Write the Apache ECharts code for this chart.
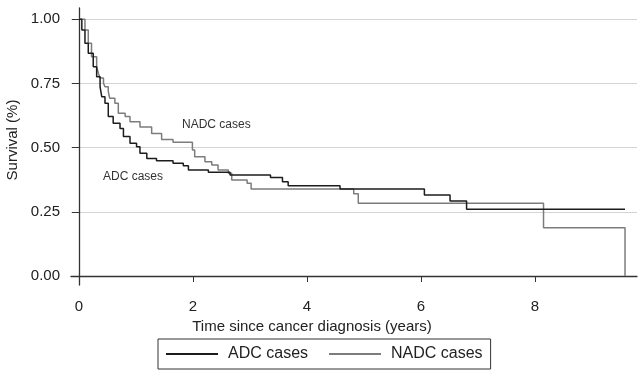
<!DOCTYPE html>
<html>
<head>
<meta charset="utf-8">
<script src="https://cdn.jsdelivr.net/npm/echarts@6/dist/echarts.min.js"></script>
<style>
html, body { margin: 0; padding: 0; background: #fff; }
#main { width: 643px; height: 376px; }
</style>
</head>
<body>
<div id="main"></div>
<script>
// Kaplan-Meier estimates (time in years, survival)
var adcTime = [0, 0.05, 0.105, 0.163, 0.25, 0.31, 0.37, 0.40, 0.456, 0.514, 0.60, 0.72, 0.78, 0.895, 1.01, 1.07, 1.19, 1.36, 1.65, 1.83, 1.92, 2.27, 2.65, 3.36, 3.57, 3.67, 4.58, 6.06, 6.51, 6.80, 9.58];
var adcSurv = [1.0, 0.958, 0.907, 0.868, 0.815, 0.776, 0.737, 0.698, 0.673, 0.621, 0.595, 0.575, 0.543, 0.517, 0.504, 0.478, 0.458, 0.449, 0.439, 0.430, 0.413, 0.404, 0.393, 0.384, 0.367, 0.352, 0.339, 0.316, 0.292, 0.260, 0.260];

var nadcTime = [0, 0.105, 0.163, 0.22, 0.31, 0.34, 0.37, 0.43, 0.456, 0.514, 0.54, 0.63, 0.69, 0.81, 0.895, 1.07, 1.275, 1.45, 1.65, 1.99, 2.03, 2.21, 2.33, 2.44, 2.62, 2.68, 2.95, 3.02, 4.82, 4.90, 8.15, 9.58];
var nadcSurv = [1.0, 0.958, 0.907, 0.854, 0.815, 0.790, 0.771, 0.751, 0.737, 0.718, 0.692, 0.673, 0.634, 0.621, 0.601, 0.580, 0.555, 0.532, 0.521, 0.491, 0.465, 0.445, 0.432, 0.413, 0.400, 0.374, 0.361, 0.339, 0.320, 0.283, 0.188, 0.0];

var xTicks = [0, 2, 4, 6, 8];
var yTicks = [0, 0.25, 0.5, 0.75, 1];

function pairs(t, s) {
	return t.map(function (v, i) { return [v, s[i]]; });
}

var chart = echarts.init(document.getElementById('main'));
var fontFam = '"Liberation Sans", Arial, sans-serif';

var option = {
	backgroundColor: '#fff',
	animation: false,
	grid: { left: 71, right: 6, top: 8, bottom: 91 },
	xAxis: {
		type: 'value',
		min: -0.14,
		max: 9.79,
		axisLine: { lineStyle: { color: '#333', width: 1.3 } },
		axisTick: { length: 6, customValues: xTicks, lineStyle: { color: '#333' } },
		axisLabel: { customValues: xTicks, margin: 14, color: '#222', fontSize: 15, fontFamily: fontFam },
		splitLine: { show: false }
	},
	yAxis: {
		type: 'value',
		min: -0.035,
		max: 1.044,
		axisLine: { show: true, lineStyle: { color: '#333', width: 1.3 } },
		axisTick: { show: true, length: 7, customValues: yTicks, lineStyle: { color: '#333' } },
		axisLabel: {
			customValues: yTicks, margin: 11, color: '#222', fontSize: 15, fontFamily: fontFam,
			formatter: function (v) { return v.toFixed(2); }
		},
		splitLine: { show: true, lineStyle: { color: '#d4d4d4', width: 1 } }
	},
	legend: {
		left: 158,
		top: 339,
		padding: [7, 8, 7, 8],
		itemGap: 21,
		itemWidth: 52,
		itemHeight: 2,
		icon: 'rect',
		borderColor: '#333',
		borderWidth: 1,
		textStyle: { fontSize: 16, color: '#222', fontFamily: fontFam, padding: [0, 0, 0, 5], lineHeight: 16 },
		data: ['ADC cases', 'NADC cases']
	},
	series: [
		{
			name: 'ADC cases',
			type: 'line',
			step: 'end',
			symbol: 'none',
			z: 4,
			lineStyle: { color: '#1c1c1c', width: 1.5 },
			itemStyle: { color: '#1c1c1c' },
			data: pairs(adcTime, adcSurv)
		},
		{
			name: 'NADC cases',
			type: 'line',
			step: 'end',
			symbol: 'none',
			z: 3,
			lineStyle: { color: '#7c7c7c', width: 1.5 },
			itemStyle: { color: '#7c7c7c' },
			data: pairs(nadcTime, nadcSurv)
		}
	],
	graphic: [
		{ type: 'text', left: 182, top: 119, style: { text: 'NADC cases', fontSize: 12, fill: '#333', fontFamily: fontFam } },
		{ type: 'text', left: 103, top: 171, style: { text: 'ADC cases', fontSize: 12, fill: '#333', fontFamily: fontFam } },
		{ type: 'text', x: 312, y: 327, style: { text: 'Time since cancer diagnosis (years)', fontSize: 15, fill: '#222', fontFamily: fontFam, align: 'center', verticalAlign: 'middle' } },
		{ type: 'text', x: 13, y: 140, rotation: Math.PI / 2, style: { text: 'Survival (%)', fontSize: 15, fill: '#222', fontFamily: fontFam, align: 'center', verticalAlign: 'middle' } }
	]
};
chart.setOption(option);
</script>
</body>
</html>
